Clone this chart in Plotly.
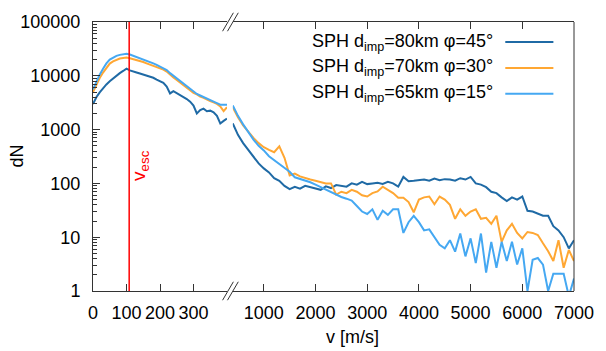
import plotly.graph_objects as go

# ---------------- data ----------------
v_left = list(range(0, 401, 10))          # m/s, left panel
v_right = list(range(400, 7001, 100))     # m/s, right panel

dn80_left = [3000, 4000, 4900, 5900, 6900, 7900, 9000, 10100, 11200, 12300,
             13600, 12600, 12200, 11500, 11000, 10500, 9900, 9700, 9200, 8500,
             8000, 7400, 6300, 4700, 5200, 4800, 4500, 4100, 3700, 3300,
             2800, 2000, 2300, 2450, 2200, 2250, 2100, 1800, 1300, 1450, 1600]
dn70_left = [5000, 7000, 9100, 11500, 14200, 16900, 18500, 19800, 20900, 21500,
             21800, 21200, 20500, 19500, 19000, 18000, 17000, 16200, 15500, 14500,
             13800, 13000, 12000, 10500, 9300, 8400, 7500, 6700, 6100, 5300,
             4800, 4500, 4100, 3900, 3600, 3400, 3200, 3000, 2700, 2200, 2600]
dn65_left = [5600, 8000, 10500, 13500, 17000, 20000, 22000, 23500, 24500, 25500,
             25700, 24800, 23500, 22300, 21800, 20500, 19000, 18000, 17000, 16000,
             15000, 14000, 12800, 11200, 10000, 8800, 7800, 7000, 6300, 5600,
             5000, 4600, 4300, 4000, 3700, 3500, 3300, 3100, 2900, 2900, 2900]

dn80_right = [1300, 800, 560, 420, 320, 235, 190, 160, 125, 112,
              90, 78, 86, 80, 90, 85, 80, 76, 88, 82,
              93, 90, 87, 100, 95, 107, 97, 100, 103, 98,
              107, 100, 87, 132, 110, 112, 115, 118, 112, 123,
              115, 120, 118, 112, 125, 118, 132, 100, 95, 85,
              70, 66, 55, 47, 55, 50, 57, 31, 30, 27,
              25, 25, 16, 13.4, 10, 6.2, 8.8]
dn70_right = [2600, 1700, 1200, 900, 700, 560, 470, 420, 380, 490,
              300, 140, 152, 135, 125, 118, 112, 105, 100, 100,
              62, 70, 66, 76, 70, 60, 57, 66, 71, 87,
              75, 66, 54, 54, 45, 29, 50, 55, 57, 41,
              57, 50, 40, 22, 33, 25, 30, 33, 22, 23,
              17.7, 25, 8.2, 13.4, 17.7, 12, 9.5, 12.5, 12, 11,
              7.7, 5.5, 3.6, 8.8, 2.7, 5.8, 3.6]
dn65_right = [2800, 1800, 1250, 880, 650, 500, 410, 320, 270, 235,
              195, 165, 130, 122, 112, 105, 95, 85, 78, 70,
              62, 56, 52, 48, 38, 30, 27, 33, 21, 31,
              26, 33, 33, 12, 19, 25, 19, 13.4, 14, 10,
              7.2, 6.2, 8.8, 5.4, 11.7, 4.4, 9.5, 3.3, 11.7, 2.2,
              8.2, 2.7, 8.2, 3.6, 8.2, 3.1, 6.2, 1.0, 3.8, 4.1,
              3.1, 1.0, 2.1, 2.1, 2.1, 0.8, 1.7]

labels = ["SPH d<sub>imp</sub>=80km φ=45°",
          "SPH d<sub>imp</sub>=70km φ=30°",
          "SPH d<sub>imp</sub>=65km φ=15°"]
v_esc = 108
y_tickvals = [1, 10, 100, 1000, 10000, 100000]
y_ticktext = ["1", "10", "100", "1000", "10000", "100000"]
y_minor = [m * 10 ** e for e in range(0, 5) for m in range(2, 10)]
x_left_ticks = [0, 100, 200, 300]
x_right_ticks = [1000, 2000, 3000, 4000, 5000, 6000, 7000]

# ---------------- style ----------------
colors = ["#1f6aa5", "#ffa733", "#45a8f2"]
W, H = 606, 351
L, R, T, B = 93, 583, 14, 291
FONT = "Liberation Sans, Arial, sans-serif"
FS = 18
AX = "#333333"

def pxx(px):
    return (px - L) / (R - L)

def pxy(py):
    return (B - py) / (B - T)

d1 = pxx(229.5)
d2 = pxx(235.4)

fig = go.Figure()
lefts = [dn80_left, dn70_left, dn65_left]
rights = [dn80_right, dn70_right, dn65_right]
for i in range(3):
    fig.add_trace(go.Scatter(x=v_left, y=lefts[i], mode="lines", xaxis="x", yaxis="y",
                             line=dict(color=colors[i], width=2), showlegend=False))
    fig.add_trace(go.Scatter(x=v_right, y=rights[i], mode="lines", xaxis="x2", yaxis="y",
                             line=dict(color=colors[i], width=2), showlegend=False))

common_x = dict(showline=True, linecolor=AX, linewidth=1, mirror="ticks",
                ticks="inside", ticklen=7, tickcolor=AX, tickwidth=1,
                showgrid=False, zeroline=False, ticklabelstandoff=5,
                tickfont=dict(family=FONT, size=FS, color="black"))

fig.update_layout(
    width=W, height=H,
    margin=dict(l=L, r=W - R, t=T, b=H - B, pad=0),
    plot_bgcolor="white", paper_bgcolor="white",
    xaxis=dict(domain=[0, d1], range=[0, 400], tickvals=x_left_ticks, anchor="y",
               **common_x),
    xaxis2=dict(domain=[d2, 1], range=[400, 7000], tickvals=x_right_ticks, anchor="y",
                **common_x),
    yaxis=dict(type="log", range=[0, 5], anchor="x", tickvals=y_tickvals, ticktext=y_ticktext,
               showline=True, linecolor=AX, linewidth=1, ticks="inside", ticklen=7,
               tickcolor=AX, showgrid=False, zeroline=False, ticklabelstandoff=8,
               minor=dict(tickvals=y_minor, ticks="inside", ticklen=4, tickcolor=AX, showgrid=False),
               tickfont=dict(family=FONT, size=FS, color="black")),
    font=dict(family=FONT, size=FS, color="black"),
)

shapes = []
# right border
shapes.append(dict(type="line", xref="paper", yref="paper", x0=1, x1=1, y0=0, y1=1,
                   line=dict(color=AX, width=1)))
# escape velocity line
shapes.append(dict(type="line", xref="x", yref="paper", x0=v_esc, x1=v_esc, y0=0, y1=1,
                   line=dict(color="#ff0000", width=1.5)))
# axis break marks (top and bottom)
for by in (T, B):
    for cx in (230.5, 235.5):
        shapes.append(dict(type="line", xref="paper", yref="paper",
                           x0=pxx(cx - 5.5), y0=pxy(by + 9.5),
                           x1=pxx(cx + 5.5), y1=pxy(by - 9.5),
                           line=dict(color=AX, width=1)))
# legend samples
rows = [34.7, 61.3, 88]
for i in range(3):
    shapes.append(dict(type="line", xref="paper", yref="paper",
                       x0=pxx(513), x1=pxx(562), y0=pxy(rows[i]), y1=pxy(rows[i]),
                       line=dict(color=colors[i], width=2)))
fig.update_layout(shapes=shapes)

ann = []
for i in range(3):
    ann.append(dict(text=labels[i], xref="paper", yref="paper", x=pxx(503), y=pxy(rows[i]),
                    xanchor="right", yanchor="middle", showarrow=False,
                    font=dict(family=FONT, size=FS, color="black")))
ann.append(dict(text="v<sub>esc</sub>", xref="x", yref="paper", x=v_esc, xshift=11,
                y=pxy(162), textangle=-90, showarrow=False, xanchor="center", yanchor="middle",
                font=dict(family=FONT, size=19, color="#ff0000")))
ann.append(dict(text="dN", xref="paper", yref="paper", x=pxx(16), y=pxy(152), textangle=-90,
                showarrow=False, xanchor="center", yanchor="middle",
                font=dict(family=FONT, size=FS, color="black")))
ann.append(dict(text="v [m/s]", xref="paper", yref="paper", x=pxx(357), y=pxy(338),
                showarrow=False, xanchor="center", yanchor="middle",
                font=dict(family=FONT, size=FS, color="black")))
fig.update_layout(annotations=ann)

fig.write_html("out.html")
